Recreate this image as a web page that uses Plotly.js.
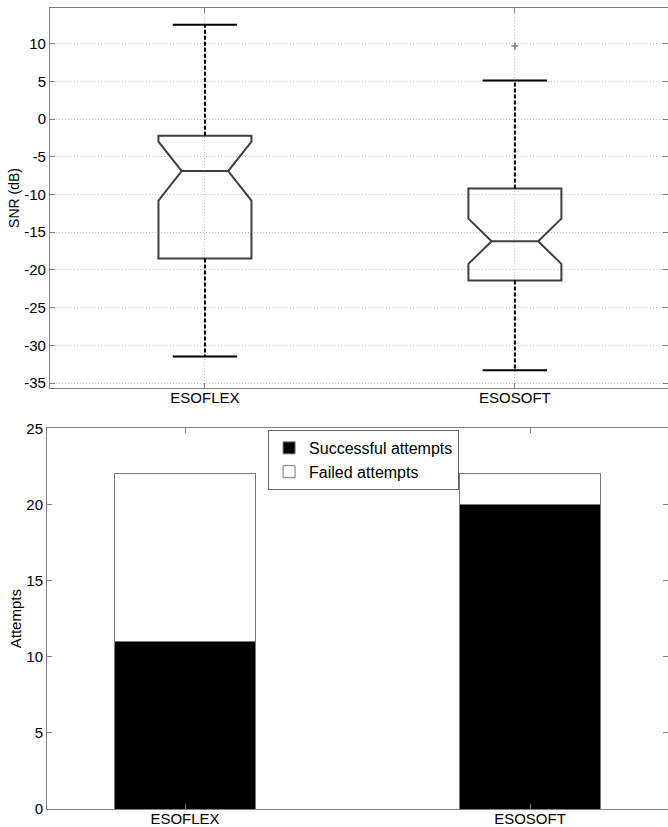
<!DOCTYPE html>
<html>
<head>
<meta charset="utf-8">
<script src="https://cdn.plot.ly/plotly-3.0.1.min.js"></script>
<style>html,body{margin:0;padding:0;background:#fff;}#chart{width:668px;height:827px;}</style>
</head>
<body>
<div id="chart"></div>
<script>
// ---- data ----
var categories = ['ESOFLEX', 'ESOSOFT'];
var q1Values = [-18.5, -21.4];
var medianValues = [-6.9, -16.2];
var q3Values = [-2.2, -9.2];
var lowerWhisker = [-31.5, -33.3];
var upperWhisker = [12.5, 5.1];
var notchSpan = [3.9, 3.0];
var outlierCategory = ['ESOSOFT'];
var outlierValues = [9.7];
var successfulAttempts = [11, 20];
var failedAttempts = [11, 2];
var snrTicks = [-35, -30, -25, -20, -15, -10, -5, 0, 5, 10];
var attemptTicks = [0, 5, 10, 15, 20, 25];

var FONT = 'Liberation Sans, Arial, sans-serif';

// whisker lines built from arrays
var wx = [], wy = [];
for (var i = 0; i < categories.length; i++) {
  wx.push(categories[i], categories[i], null, categories[i], categories[i], null);
  wy.push(q3Values[i], upperWhisker[i], null, q1Values[i], lowerWhisker[i], null);
}

var traces = [
  {
    type: 'box', x: categories, q1: q1Values, median: medianValues, q3: q3Values,
    lowerfence: q1Values, upperfence: q3Values, notched: true, notchspan: notchSpan,
    notchwidth: 0.25, width: 0.3, whiskerwidth: 0, boxpoints: false,
    line: {color: '#404040', width: 2}, fillcolor: 'rgba(0,0,0,0)',
    showlegend: false, hoverinfo: 'skip', xaxis: 'x', yaxis: 'y'
  },
  {
    type: 'scatter', mode: 'lines', x: wx, y: wy, connectgaps: false,
    line: {color: '#000', width: 2, dash: '4px,2px'},
    showlegend: false, hoverinfo: 'skip', xaxis: 'x', yaxis: 'y'
  },
  {
    type: 'scatter', mode: 'markers', x: categories.concat(categories),
    y: lowerWhisker.concat(upperWhisker),
    marker: {symbol: 'line-ew', size: 46, line: {color: '#000', width: 2}},
    showlegend: false, hoverinfo: 'skip', xaxis: 'x', yaxis: 'y'
  },
  {
    type: 'scatter', mode: 'markers', x: outlierCategory, y: outlierValues,
    marker: {symbol: 'cross-thin', size: 5, line: {color: '#777', width: 1.5}},
    showlegend: false, hoverinfo: 'skip', xaxis: 'x', yaxis: 'y'
  },
  {
    type: 'bar', x: categories, y: successfulAttempts, name: 'Successful attempts',
    width: 0.408, marker: {color: '#000', line: {color: '#777', width: 1}},
    xaxis: 'x2', yaxis: 'y2'
  },
  {
    type: 'bar', x: categories, y: failedAttempts, name: 'Failed attempts',
    width: 0.408, marker: {color: '#fff', line: {color: '#777', width: 1}},
    xaxis: 'x2', yaxis: 'y2'
  }
];

var axisCommon = {
  showline: true, linecolor: '#808080', linewidth: 1, mirror: 'ticks',
  ticks: 'inside', ticklen: 5, tickcolor: '#808080', tickwidth: 1,
  tickfont: {family: FONT, size: 15, color: '#000'}, zeroline: false
};

var layout = {
  width: 668, height: 827,
  margin: {l: 47, r: 0, t: 8, b: 18},
  paper_bgcolor: '#fff', plot_bgcolor: '#fff',
  showlegend: true, barmode: 'stack',
  font: {family: FONT, color: '#000'},
  xaxis: Object.assign({}, axisCommon, {
    domain: [0.0048, 1], anchor: 'y', type: 'category',
    categoryorder: 'array', categoryarray: categories,
    range: [-0.5, 1.494], showgrid: true, gridcolor: '#c4c4c4', griddash: '1px,2px', gridwidth: 1,
    ticklabelstandoff: -4
  }),
  yaxis: Object.assign({}, axisCommon, {
    domain: [0.5256, 1], anchor: 'x', range: [-35.66, 14.73],
    tickmode: 'array', tickvals: snrTicks, ticktext: snrTicks.map(String),
    showgrid: true, gridcolor: '#c4c4c4', griddash: '1px,2px', gridwidth: 1,
    title: {text: 'SNR (dB)', font: {family: FONT, size: 14, color: '#000'}, standoff: 1}
  }),
  xaxis2: Object.assign({}, axisCommon, {
    domain: [0, 1], anchor: 'y2', type: 'category',
    categoryorder: 'array', categoryarray: categories,
    range: [-0.4, 1.4], showgrid: false, ticklabelstandoff: -4
  }),
  yaxis2: Object.assign({}, axisCommon, {
    domain: [0, 0.4753], anchor: 'x2', range: [0, 25],
    tickmode: 'array', tickvals: attemptTicks, ticktext: attemptTicks.map(String),
    showgrid: false,
    title: {text: 'Attempts', font: {family: FONT, size: 15, color: '#000'}, standoff: 1}
  }),
  legend: {
    x: 0.356, y: 0.4732, xanchor: 'left', yanchor: 'top',
    bgcolor: '#fff', bordercolor: '#666', borderwidth: 1,
    font: {family: FONT, size: 16, color: '#000'}, traceorder: 'normal',
    tracegroupgap: 0
  }
};

Plotly.newPlot('chart', traces, layout, {displayModeBar: false, staticPlot: true});
</script>
</body>
</html>
